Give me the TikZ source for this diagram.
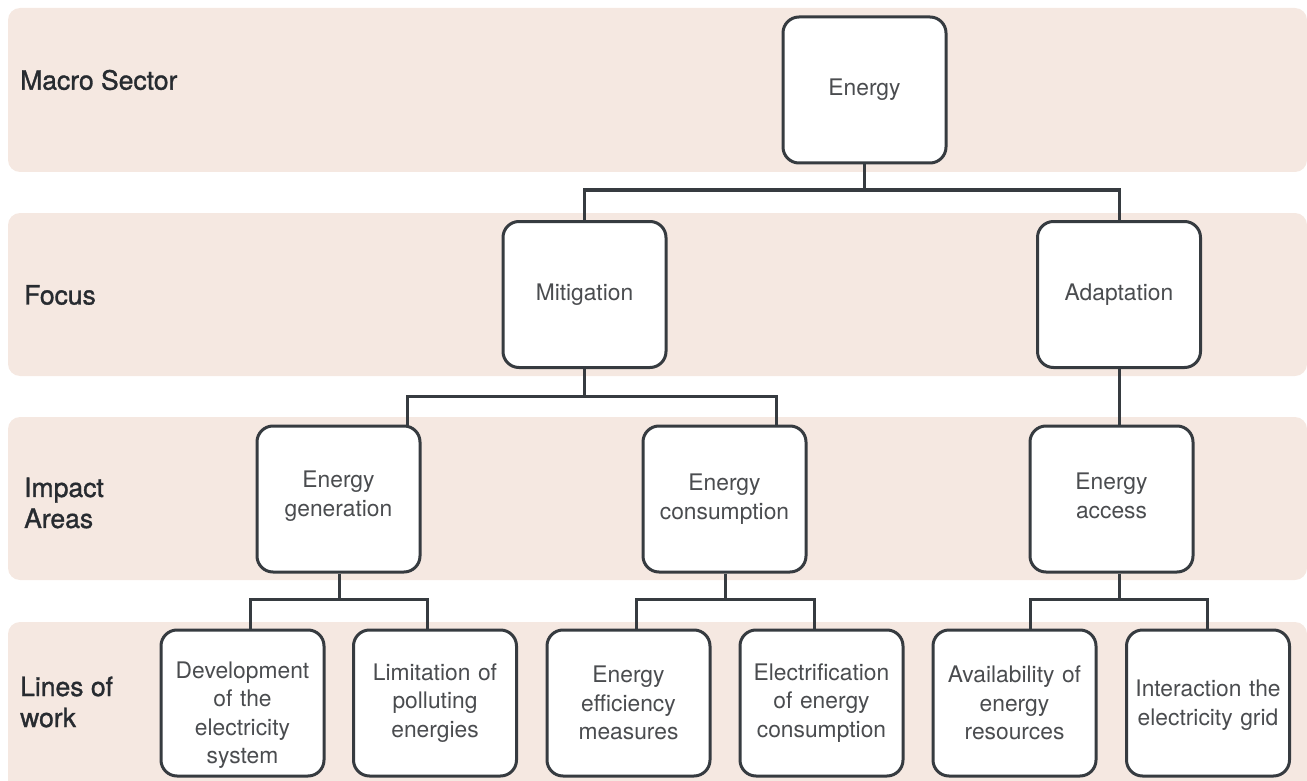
\documentclass[tikz,border=0pt]{standalone}
\usepackage{fontspec}
\setmainfont{TeX Gyre Heros}
\newfontfamily\labfont[FakeBold=1.2]{TeX Gyre Heros}
\begin{document}
\begin{tikzpicture}[x=1pt,y=-1pt,
  band/.style={fill=bandc,draw=none,rounded corners=12pt},
  lbl/.style={anchor=west,align=left,text=labc,font=\labfont\fontsize{26.5}{31}\selectfont,inner sep=0pt},
  box/.style={draw=linec,line width=3pt,fill=white,rounded corners=16pt,minimum width=163pt,minimum height=146pt,text width=152pt,align=center,inner sep=0pt,text=boxt,font=\fontsize{22.8}{28.5}\selectfont},
  txt/.style={text width=152pt,align=center,inner sep=0pt,text=boxt,font=\fontsize{22.8}{28.5}\selectfont},
  conn/.style={draw=linec,line width=3pt}]
\definecolor{bandc}{HTML}{F5E8E1}
\definecolor{linec}{HTML}{363B40}
\definecolor{labc}{HTML}{272B30}
\definecolor{boxt}{HTML}{4A4C4F}
\useasboundingbox (0,0) rectangle (1307,781);
\clip (0,0) rectangle (1307,781);
% bands
\path[band] (8,8) rectangle (1307,172);
\path[band] (8,213) rectangle (1307,376);
\path[band] (8,417) rectangle (1307,580);
\path[band] (8,622) rectangle (1307,800);
% row labels
\node[lbl] (l1) at (20,80) {Macro Sector};
\node[lbl] (l2) at (24,295) {Focus};
\node[lbl] (l3) at (24,503) {Impact\\Areas};
\node[lbl] (l4) at (20,702) {Lines of\\work};
% boxes
\node[box] (energy) at (864.5,90) {Energy};
\node[box] (mitig) at (584.5,294.5) {Mitigation};
\node[box] (adapt) at (1119,294.5) {Adaptation};
\node[box] (gen) at (338.5,499) {};
\node[txt] (gent) at (338.5,496) {Energy\\generation};
\node[box] (cons) at (724.5,499) {Energy\\consumption};
\node[box] (acc) at (1111.5,499) {};
\node[txt] (acct) at (1111.5,496) {Energy\\access};
\node[box] (dev) at (242.5,703) {};
\node[txt] (devt) at (242.5,715) {Development\\of the\\electricity\\system};
\node[box] (lim) at (435,703) {Limitation of\\polluting\\energies};
\node[box] (eff) at (628.5,703) {Energy\\efficiency\\measures};
\node[box] (elec) at (821.5,703) {Electrification\\of energy\\consumption};
\node[box] (avail) at (1014.5,703) {Availability of\\energy\\resources};
\node[box] (inter) at (1208,703) {};
\node[txt] (intert) at (1208,705) {Interaction the\\electricity grid};
% anchor points
\coordinate (genin) at ([xshift=68.5pt]gen.north);
\coordinate (consin) at ([xshift=51.5pt]cons.north);
\coordinate (genout) at ([xshift=0.5pt]gen.south);
\coordinate (devin) at ([xshift=7.5pt]dev.north);
\coordinate (limin) at ([xshift=-8pt]lim.north);
\coordinate (consout) at ([xshift=0.5pt]cons.south);
\coordinate (effin) at ([xshift=7.5pt]eff.north);
\coordinate (elecin) at ([xshift=-7.5pt]elec.north);
\coordinate (accout) at ([xshift=7.5pt]acc.south);
\coordinate (availin) at ([xshift=15.5pt]avail.north);
\coordinate (interin) at ([xshift=-1pt]inter.north);
% connectors
\draw[conn] (energy.south) -- (energy.south |- 0,190) -| (mitig.north);
\draw[conn] (energy.south |- 0,190) -| (adapt.north);
\draw[conn] (mitig.south) -- (mitig.south |- 0,396) -| (genin);
\draw[conn] (mitig.south |- 0,396) -| (consin);
\draw[conn] (adapt.south) -- (adapt.south |- acc.north);
\draw[conn] (genout) -- (genout |- 0,599) -| (devin);
\draw[conn] (genout |- 0,599) -| (limin);
\draw[conn] (consout) -- (consout |- 0,599) -| (effin);
\draw[conn] (consout |- 0,599) -| (elecin);
\draw[conn] (accout) -- (accout |- 0,599) -| (availin);
\draw[conn] (accout |- 0,599) -| (interin);
\end{tikzpicture}
\end{document}
